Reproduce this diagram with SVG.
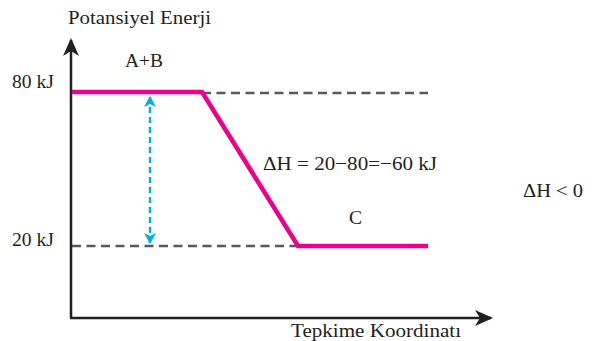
<svg xmlns="http://www.w3.org/2000/svg" width="593" height="341" viewBox="0 0 593 341">
<style>
text{font-family:"Liberation Serif","Times New Roman",serif;font-size:19.5px;fill:#231f20}
.ax{stroke:#231f20;stroke-width:2.5;fill:none}
.dash{stroke:#58595b;stroke-width:2.4;stroke-dasharray:9,5.5;fill:none}
.curve{stroke:#ec008c;stroke-width:4.5;fill:none;stroke-linejoin:miter}
.blue{stroke:#00aeef;stroke-width:2.4;stroke-dasharray:6,4;fill:none}
</style>
<defs>
<marker id="bh" markerWidth="12" markerHeight="12" refX="10" refY="6" orient="auto-start-reverse" markerUnits="userSpaceOnUse">
<path d="M0,0 L11,6 L0,12 L3,6 Z" fill="#00aeef"/>
</marker>
<marker id="axh" markerWidth="20" markerHeight="16" refX="16" refY="8" orient="auto" markerUnits="userSpaceOnUse">
<path d="M0,0 L18,8 L0,16 L5,8 Z" fill="#231f20"/>
</marker>
</defs>
<g id="connectors">
<line class="dash" x1="202" y1="93" x2="428" y2="93"/>
<line class="dash" x1="72" y1="246" x2="298" y2="246"/>
<line class="ax" x1="71" y1="318" x2="71" y2="40" marker-end="url(#axh)"/>
<line class="ax" x1="70" y1="318" x2="491" y2="318" marker-end="url(#axh)"/>
<polyline class="curve" points="72,92 202,92 298,246 428,246"/>
<line class="blue" x1="150" y1="97" x2="150" y2="243" marker-start="url(#bh)" marker-end="url(#bh)"/>
</g>
<g id="labels">
<text x="68" y="24" textLength="143" lengthAdjust="spacingAndGlyphs">Potansiyel Enerji</text>
<text x="125" y="67" textLength="38" lengthAdjust="spacingAndGlyphs">A+B</text>
<text x="12" y="88" textLength="42" lengthAdjust="spacingAndGlyphs">80 kJ</text>
<text x="12" y="246" textLength="42" lengthAdjust="spacingAndGlyphs">20 kJ</text>
<text x="263" y="170" textLength="174" lengthAdjust="spacingAndGlyphs">ΔH = 20−80=−60 kJ</text>
<text x="523" y="197" textLength="60" lengthAdjust="spacingAndGlyphs">ΔH &lt; 0</text>
<text x="349" y="224">C</text>
<text x="291" y="337" textLength="170" lengthAdjust="spacingAndGlyphs">Tepkime Koordinatı</text>
</g>
</svg>
